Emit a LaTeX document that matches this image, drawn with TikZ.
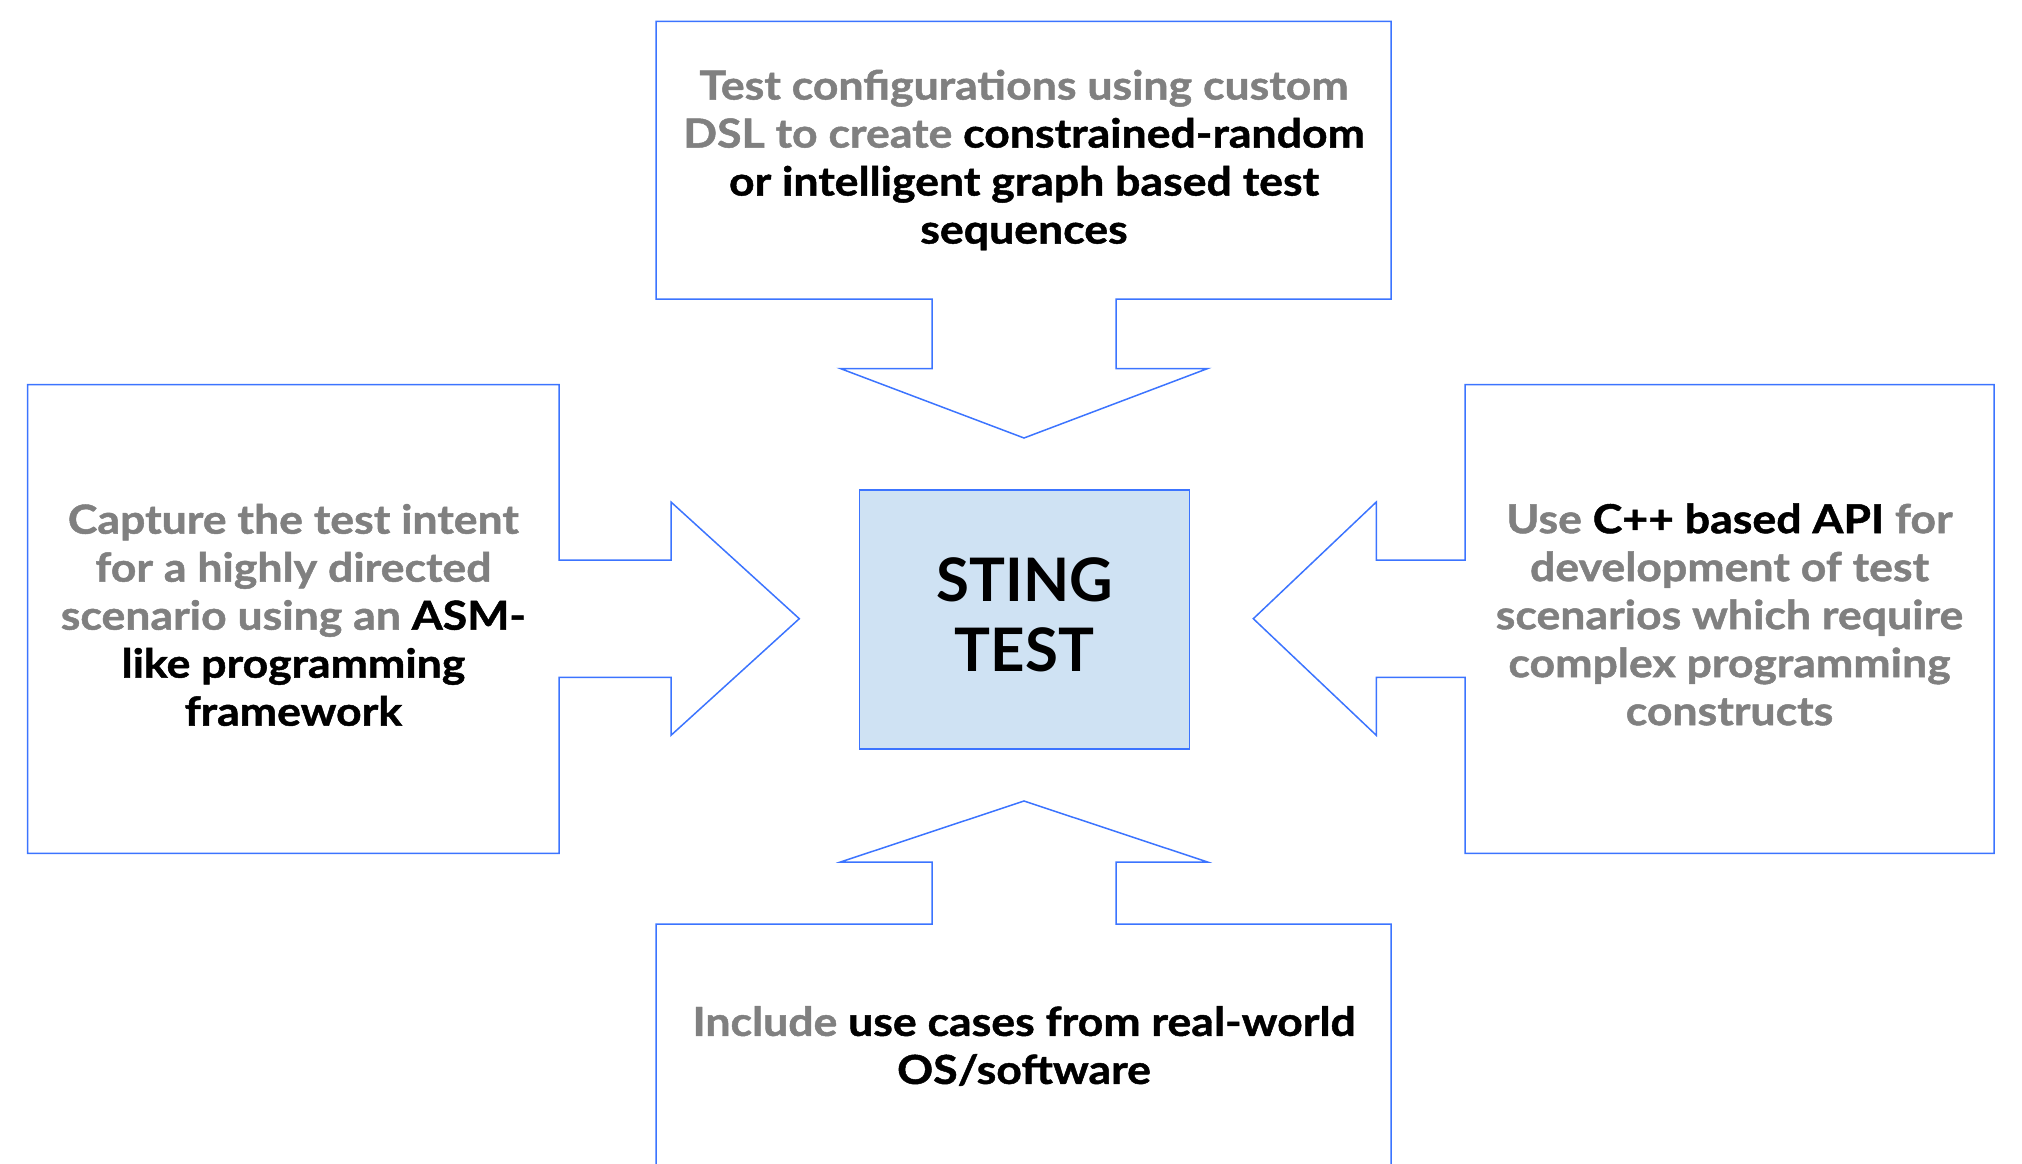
\documentclass[tikz,border=0pt]{standalone}
\usepackage{fontspec}
\setmainfont{Lato}
\newfontfamily\notefont{Lato}[FakeStretch=1.115,BoldFeatures={FakeBold=1.2}]
\definecolor{calloutblue}{HTML}{3C74FF}
\definecolor{stingfill}{HTML}{CFE2F3}
\definecolor{softgray}{HTML}{808080}
\newcommand{\keyterm}[1]{\textcolor{black}{#1}}
\begin{document}
\begin{tikzpicture}[x=1pt,y=-1pt,
    every node/.style={inner sep=0pt,align=center},
    callout/.style={draw=calloutblue,line width=1.5pt,line join=miter},
    note/.style={text=softgray,font=\notefont\bfseries\fontsize{40}{48}\selectfont},
    core/.style={draw=calloutblue,line width=1.5pt,fill=stingfill,
      minimum width=330pt,minimum height=259pt},
    corelabel/.style={font=\bfseries\fontsize{60}{70}\selectfont}
  ]
  \useasboundingbox (0,0) rectangle (2022,1164);
  % callouts pointing at the centre
  \draw[callout] (656,21.5) -- (1391,21.5) -- (1391,299.2) -- (1116,299.2) -- (1116,368.6)
    -- (1207.5,368.6) -- (1024,438) -- (840.5,368.6) -- (932,368.6) -- (932,299.2)
    -- (656,299.2) -- cycle;
  \draw[callout] (27.7,384.6) -- (559,384.6) -- (559,560) -- (671,560) -- (671,502)
    -- (799.3,618.7) -- (671,735.3) -- (671,677.3) -- (559,677.3) -- (559,853.3)
    -- (27.7,853.3) -- cycle;
  \draw[callout] (1994.2,384.6) -- (1465,384.6) -- (1465,560) -- (1376.3,560) -- (1376.3,502)
    -- (1253.3,618.7) -- (1376.3,735.3) -- (1376.3,677.3) -- (1465,677.3) -- (1465,853.3)
    -- (1994.2,853.3) -- cycle;
  \draw[callout] (656,1170) -- (656,924) -- (932,924) -- (932,862) -- (840.5,862)
    -- (1024,801) -- (1207.5,862) -- (1116,862) -- (1116,924) -- (1391,924) -- (1391,1170);
  % centre
  \node[core] (sting) at (1024.5,619.4) {};
  \node[corelabel,yshift=4.6pt] (stingtext) at (sting.center) {STING\\TEST};
  % texts
  \node[note] (dsl) at (1024,160) {Test configurations using custom\\DSL to create \keyterm{constrained-random}\\\keyterm{or intelligent graph based test}\\\keyterm{sequences}};
  \node[note] (asm) at (293.4,615) {Capture the test intent\\for a highly directed\\scenario using an \keyterm{ASM-}\\\keyterm{like programming}\\\keyterm{framework}};
  \node[note] (cpp) at (1729.5,614.5) {Use \keyterm{C++ based API} for\\development of test\\scenarios which require\\complex programming\\constructs};
  \node[note] (os) at (1024,1046) {Include \keyterm{use cases from real-world}\\\keyterm{OS/software}};
\end{tikzpicture}
\end{document}
